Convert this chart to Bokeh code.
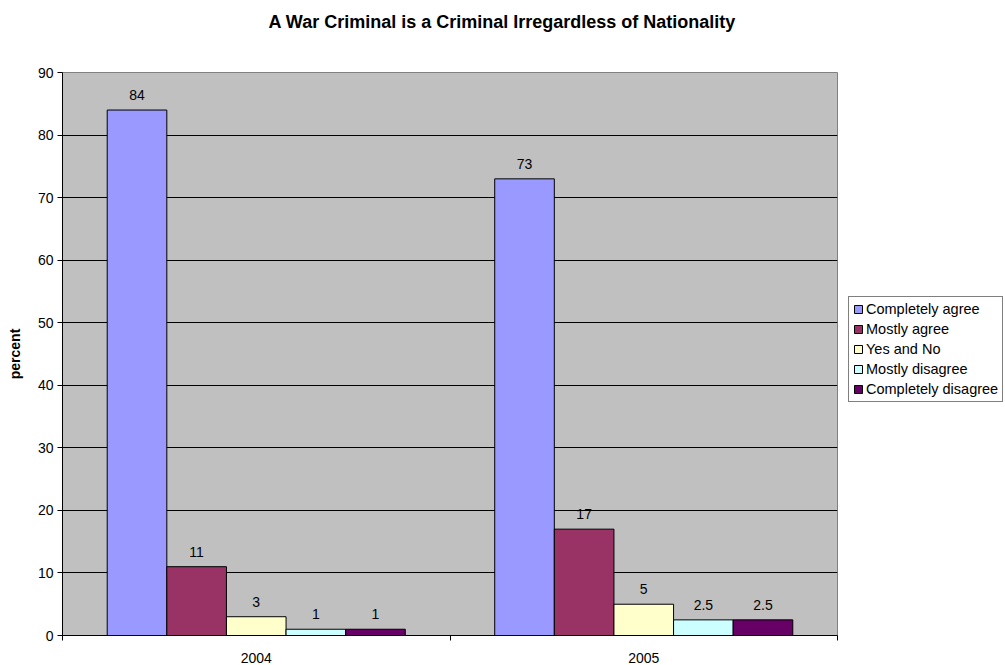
from bokeh.plotting import figure
from bokeh.models import (Range1d, FixedTicker, Legend, LegendItem,
                          ColumnDataSource, LabelSet)
from bokeh.core.properties import value
from bokeh.embed import file_html
from bokeh.resources import INLINE

# ---- data ----
years = ["2004", "2005"]
series_names = ["Completely agree", "Mostly agree", "Yes and No",
                "Mostly disagree", "Completely disagree"]
completely_agree = [84, 73]
mostly_agree = [11, 17]
yes_and_no = [3, 5]
mostly_disagree = [1, 2.5]
completely_disagree = [1, 2.5]
y_ticks = [0, 10, 20, 30, 40, 50, 60, 70, 80, 90]
title_text = "A War Criminal is a Criminal Irregardless of Nationality"

series_values = [completely_agree, mostly_agree, yes_and_no,
                 mostly_disagree, completely_disagree]
colors = ["#9999FF", "#993366", "#FFFFCC", "#CCFFFF", "#660066"]

FONT = "Liberation Sans"

p = figure(frame_width=775, frame_height=563,
           output_backend="svg", toolbar_location=None,
           x_range=Range1d(0, len(years)), y_range=Range1d(0, 90),
           min_border_left=62, min_border_right=168,
           min_border_top=72, min_border_bottom=30,
           title=title_text + "\n ")
p.background_fill_color = "#C0C0C0"
p.border_fill_color = "white"
p.outline_line_color = "#808080"
p.outline_line_width = 1

p.title.text_font = FONT
p.title.text_font_size = "18px"
p.title.text_font_style = "bold"
p.title.text_color = "black"
p.title.text_line_height = 1.8
p.title.align = "left"
p.title.offset = 206
p.title.standoff = 10

nbars = len(series_names)
bar_w = 1.0 / (nbars + 1.5)
centers = [i + 0.5 for i in range(len(years))]

items = []
for k, (name, vals, col) in enumerate(zip(series_names, series_values, colors)):
    xs = [c + (k - (nbars - 1) / 2) * bar_w for c in centers]
    src = ColumnDataSource(dict(x=xs, top=vals,
                                lbl=[("%g" % v) for v in vals]))
    r = p.vbar(x="x", top="top", width=bar_w, bottom=0, source=src,
               fill_color=col, line_color="black", line_width=1)
    items.append(LegendItem(label=name, renderers=[r]))
    p.add_layout(LabelSet(x="x", y="top", text="lbl", source=src,
                          text_align="center", text_baseline="alphabetic",
                          y_offset=10, text_font=value(FONT),
                          text_font_size=value("14px"), text_color="black"))

# grid
p.xgrid.grid_line_color = None
p.ygrid.grid_line_color = "black"
p.ygrid.grid_line_width = 1
p.ygrid.ticker = FixedTicker(ticks=y_ticks)

# y axis
p.yaxis.ticker = FixedTicker(ticks=y_ticks)
p.yaxis.axis_label = "percent"
p.yaxis.axis_label_text_font = FONT
p.yaxis.axis_label_text_font_size = "14px"
p.yaxis.axis_label_text_font_style = "bold"
p.yaxis.axis_label_text_color = "black"
p.yaxis.axis_label_standoff = 12
p.yaxis.major_label_text_font = FONT
p.yaxis.major_label_text_font_size = "14px"
p.yaxis.major_label_text_color = "black"
p.yaxis.major_tick_out = 5
p.yaxis.major_tick_in = 0
p.yaxis.minor_tick_line_color = None
p.yaxis.axis_line_color = "black"
p.yaxis.major_label_standoff = 4

# x axis (bottom)
xax = p.below[0]
xax.ticker = FixedTicker(ticks=centers,
                         minor_ticks=list(range(len(years) + 1)))
xax.major_label_overrides = {c: y for c, y in zip(centers, years)}
xax.major_label_text_font = FONT
xax.major_label_text_font_size = "14px"
xax.major_label_text_color = "black"
xax.major_tick_line_color = None
xax.major_tick_out = 0
xax.major_tick_in = 0
xax.minor_tick_out = 5
xax.minor_tick_in = 0
xax.minor_tick_line_color = "black"
xax.axis_line_color = "black"
xax.major_label_standoff = 12

legend = Legend(items=items, location=(11, 233), orientation="vertical",
                label_text_font=FONT, label_text_font_size="14.5px",
                label_text_color="black",
                glyph_width=10, glyph_height=10, label_height=15,
                label_standoff=3, spacing=4, padding=4, margin=0,
                border_line_color="black", border_line_width=1,
                background_fill_color="white", background_fill_alpha=1)
p.add_layout(legend, "right")

open("out.html", "w").write(file_html(p, INLINE))
